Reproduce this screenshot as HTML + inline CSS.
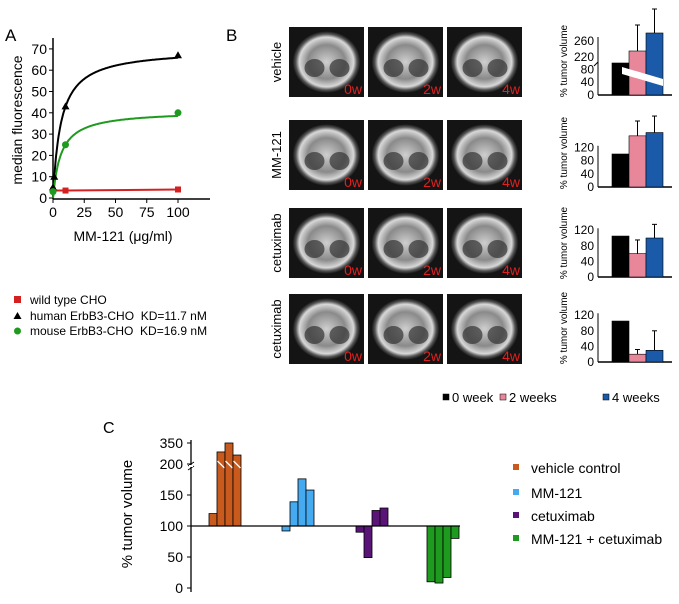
<!DOCTYPE html>
<html><head><meta charset="utf-8"><style>
body{margin:0;background:#fff}
svg{display:block;font-family:"Liberation Sans",Arial,sans-serif}
text{white-space:pre}
</style></head><body>
<svg id="fig" width="679" height="604" viewBox="0 0 679 604">
<defs>
<radialGradient id="mri" cx="50%" cy="50%" r="50%">
<stop offset="0" stop-color="#cfcfcf"/><stop offset="0.55" stop-color="#8a8a8a"/><stop offset="0.8" stop-color="#d8d8d8"/><stop offset="0.9" stop-color="#555"/><stop offset="1" stop-color="#111"/>
</radialGradient>
</defs>
<g id="pa"></g>
<g id="pb"></g>
<g id="pc"></g>
</svg>
<script>
// ---------- Panel A data ----------
const aXTicks=[0,25,50,75,100];
const aYTicks=[0,10,20,30,40,50,60,70];
const wildX=[0,10,100], wildY=[3.5,3.5,4];
const humanX=[0,1,10,100], humanY=[5,10,43,67];
const mouseX=[0,10,100], mouseY=[3,25,40];
const humanFit=[70,6.3], mouseFit=[41,6.4];
const aLegend=["wild type CHO","human ErbB3-CHO  KD=11.7 nM","mouse ErbB3-CHO  KD=16.9 nM"];
// ---------- Panel B data ----------
const bRows=["vehicle","MM-121","cetuximab","cetuximab"];
const bWeeks=["0w","2w","4w"];
const bMeans=[[100,235,280],[100,155,165],[105,60,100],[105,20,30]];
const bErr=[[0,300,340],[0,200,215],[0,95,135],[0,32,80]];
const bLegend=["0 week","2 weeks","4 weeks"];
// ---------- Panel C data ----------
const cGroups=["vehicle control","MM-121","cetuximab","MM-121 + cetuximab"];
const cValues=[[120,286,350,264],[92,139,176,158],[90,49,125,129],[10,8,17,80]];
const cTicks=[0,50,100,150,200,350];

const NS="http://www.w3.org/2000/svg";
function mk(p,t,a,txt){const e=document.createElementNS(NS,t);for(const k in a)e.setAttribute(k,a[k]);if(txt!==undefined)e.textContent=txt;p.appendChild(e);return e;}

// ===== Panel A =====
const pa=document.getElementById('pa');
const ax=v=>53+v*1.25, ay=v=>198-v*2.13;
let t=mk(pa,'text',{x:5,y:41,'font-size':17});t.textContent='A';

t=mk(pa,'line',{x1:53,y1:38,x2:53,y2:199,stroke:'#000','stroke-width':1.5});

t=mk(pa,'line',{x1:53,y1:199,x2:210,y2:199,stroke:'#000','stroke-width':1.5});

aYTicks.forEach(v=>{mk(pa,'line',{x1:49,x2:53,y1:ay(v),y2:ay(v),stroke:'#000'});
 t=mk(pa,'text',{x:47,y:ay(v)+5,'font-size':14,'text-anchor':'end'},String(v));
 });
aXTicks.forEach(v=>{mk(pa,'line',{x1:ax(v),x2:ax(v),y1:199,y2:203,stroke:'#000'});
 t=mk(pa,'text',{x:ax(v),y:217,'font-size':14,'text-anchor':'middle'},String(v));
 });
t=mk(pa,'text',{x:123,y:241,'font-size':14,'text-anchor':'middle'},'MM-121 (μg/ml)');

t=mk(pa,'text',{x:0,y:0,'font-size':14,'text-anchor':'middle',transform:'translate(22,120) rotate(-90)'},'median fluorescence');

function fitPath(f){let d='';for(let x=0;x<=100;x+=0.5){const y=f[0]*x/(f[1]+x);d+=(x?'L':'M')+ax(x).toFixed(1)+','+ay(y).toFixed(1);}return d;}
t=mk(pa,'path',{d:fitPath(humanFit),fill:'none',stroke:'#000','stroke-width':2});

t=mk(pa,'path',{d:fitPath(mouseFit),fill:'none',stroke:'#1e9a1e','stroke-width':2});

t=mk(pa,'path',{d:wildX.map((x,i)=>(i?'L':'M')+ax(x)+','+ay(wildY[i])).join(''),fill:'none',stroke:'#d42020','stroke-width':2});

wildX.forEach((x,i)=>{t=mk(pa,'rect',{x:ax(x)-3,y:ay(wildY[i])-3,width:6,height:6,fill:'#d42020'});
 });
humanX.forEach((x,i)=>{const cx=ax(x),cy=ay(humanY[i]);t=mk(pa,'polygon',{points:`${cx},${cy-4} ${cx+4},${cy+3} ${cx-4},${cy+3}`,fill:'#000'});
 });
mouseX.forEach((x,i)=>{t=mk(pa,'circle',{cx:ax(x),cy:ay(mouseY[i]),r:3.5,fill:'#1e9a1e'});
 });
const legY=[300,316,331];
aLegend.forEach((s,i)=>{const y=legY[i];
 let m;
 if(i===0)m=mk(pa,'rect',{x:14,y:y-4,width:7,height:7,fill:'#d42020'});
 else if(i===1)m=mk(pa,'polygon',{points:`17.5,${y-4} 21.5,${y+3} 13.5,${y+3}`,fill:'#000'});
 else m=mk(pa,'circle',{cx:17.5,cy:y,r:3.5,fill:'#1e9a1e'});
 
 t=mk(pa,'text',{x:30,y:y+4,'font-size':12},s);
 });

// ===== Panel B =====
const pb=document.getElementById('pb');
t=mk(pb,'text',{x:226,y:41,'font-size':17},'B');

const rowTop=[27,120,208,294], imgX=[289,368,447], imgW=75, imgH=70;
const rowLabelY=[62,155,243,329];
const bColors=['#000','#e8879a','#1a5aa8'];
bRows.forEach((r,ri)=>{
 t=mk(pb,'text',{x:0,y:0,'font-size':13,'text-anchor':'middle',transform:`translate(281,${rowLabelY[ri]}) rotate(-90)`},r);
 
 bWeeks.forEach((w,wi)=>{
  const g=mk(pb,'g',{});
  
  mk(g,'rect',{x:imgX[wi],y:rowTop[ri],width:imgW,height:imgH,fill:'#141414'});
  mk(g,'ellipse',{cx:imgX[wi]+imgW/2,cy:rowTop[ri]+imgH/2,rx:34,ry:31,fill:'url(#mri)'});
  mk(g,'ellipse',{cx:imgX[wi]+imgW/2-12,cy:rowTop[ri]+imgH/2+6,rx:10,ry:9,fill:'#333',opacity:0.7});
  mk(g,'ellipse',{cx:imgX[wi]+imgW/2+13,cy:rowTop[ri]+imgH/2+6,rx:10,ry:9,fill:'#333',opacity:0.7});
  t=mk(g,'text',{x:imgX[wi]+imgW-2,y:rowTop[ri]+imgH-3,'font-size':14,'text-anchor':'end',fill:'#e02020'},w);
  
 });
});
const bBase=[95,187,277,362];
const bScale=[0.32,0.33,0.39,0.39];
bMeans.forEach((vals,ri)=>{
 const g=mk(pb,'g',{});
 
 const base=bBase[ri];
 let yv;
 if(ri===0){ yv=v=>v<=100? base-v*0.32 : (v<220? base-32-(v-100)*0.02 : 57-(v-220)*0.4); }
 else yv=v=>base-v*bScale[ri];
 const ticks=ri===0?[0,40,80,220,260]:[0,40,80,120];
 const topY=ri===0?37:yv(125);
 mk(g,'line',{x1:598,y1:topY,x2:598,y2:base,stroke:'#000'});
 mk(g,'line',{x1:598,y1:base,x2:672,y2:base,stroke:'#000','stroke-width':1.5});
 ticks.forEach(v=>{t=mk(g,'text',{x:594,y:yv(v)+4,'font-size':12,'text-anchor':'end'},String(v));
  });
 t=mk(g,'text',{x:0,y:0,'font-size':10,'text-anchor':'middle',transform:`translate(567,${base-34}) rotate(-90)`},'% tumor volume');
 
 vals.forEach((v,i)=>{
  const x=612+i*17, top=yv(v);
  if(bErr[ri][i]>0){mk(g,'line',{x1:x+8.5,x2:x+8.5,y1:yv(bErr[ri][i]),y2:top,stroke:'#000'});
   mk(g,'line',{x1:x+6,x2:x+11,y1:yv(bErr[ri][i]),y2:yv(bErr[ri][i]),stroke:'#000'});}
  t=mk(g,'rect',{x:x,y:top,width:17,height:base-top,fill:bColors[i],stroke:'#000','stroke-width':0.6});
  
 });
 if(ri===0){mk(g,'polygon',{points:'622,67 663,79 663,86 622,74',fill:'#fff'});
  mk(g,'line',{x1:594,y1:66,x2:598,y2:62,stroke:'#000'});}
});
const bLegX=[443,500,603];
bLegend.forEach((s,i)=>{
 t=mk(pb,'rect',{x:bLegX[i],y:394,width:6,height:6,fill:bColors[i],stroke:'#000','stroke-width':0.5});
 
 t=mk(pb,'text',{x:bLegX[i]+9,y:402,'font-size':13},s);
 
});

// ===== Panel C =====
const pc=document.getElementById('pc');
const cy=v=>v<=200? 588-v*0.62 : 464-(v-200)*0.14;
const cColors=['#c85a1e','#46aaf0','#5a1478','#1e9a1e'];
const cGroupX=[209,282,356,427];
t=mk(pc,'text',{x:103,y:433,'font-size':16},'C');

t=mk(pc,'line',{x1:191,y1:440,x2:191,y2:592,stroke:'#000','stroke-width':1.3});

mk(pc,'path',{d:'M188,466 L194,462 M188,470 L194,466',stroke:'#000',fill:'none'});
mk(pc,'rect',{x:189,y:465,width:4,height:2,fill:'#fff'});
cTicks.forEach(v=>{mk(pc,'line',{x1:187,x2:191,y1:cy(v),y2:cy(v),stroke:'#000'});
 t=mk(pc,'text',{x:183,y:cy(v)+5,'font-size':14,'text-anchor':'end'},String(v));
 });
t=mk(pc,'text',{x:0,y:0,'font-size':15,'text-anchor':'middle',transform:'translate(132,514) rotate(-90)'},'% tumor volume');

cValues.forEach((vals,gi)=>{
 vals.forEach((v,i)=>{
  const x=cGroupX[gi]+i*8, y0=cy(100), y1=cy(v);
  t=mk(pc,'rect',{x:x,y:Math.min(y0,y1),width:8,height:Math.abs(y1-y0),fill:cColors[gi],stroke:'#000','stroke-width':0.8});
  
  if(v>200){mk(pc,'line',{x1:x+0.5,y1:cy(200)-3,x2:x+7.5,y2:cy(200)+4,stroke:'#fff','stroke-width':1.3});}
 });
});
t=mk(pc,'line',{x1:191,y1:cy(100),x2:460,y2:cy(100),stroke:'#000','stroke-width':1.2});

const cLegY=[468,493,516,539];
cGroups.forEach((s,i)=>{
 t=mk(pc,'rect',{x:513,y:cLegY[i]-4,width:6,height:6,fill:cColors[i]});
 
 t=mk(pc,'text',{x:531,y:cLegY[i]+5,'font-size':14},s);
 
});
</script>
</body></html>
